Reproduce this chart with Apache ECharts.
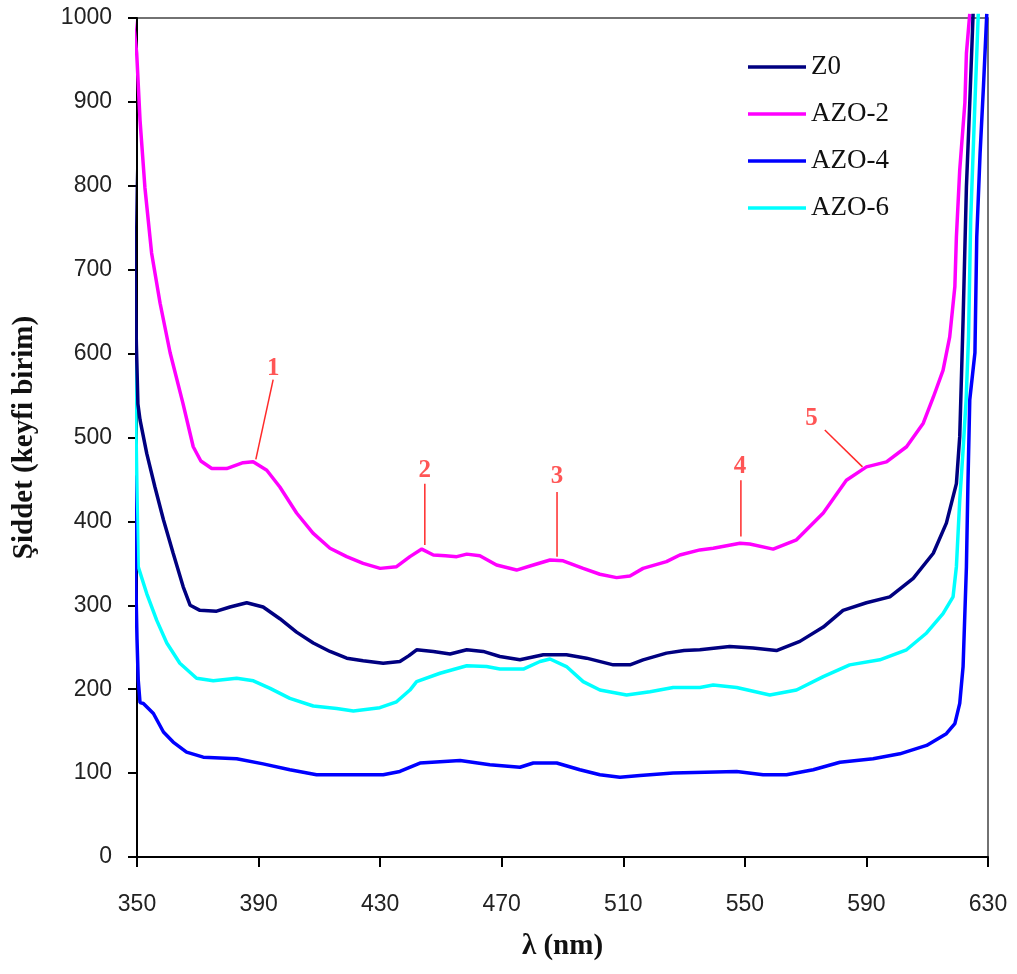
<!DOCTYPE html>
<html>
<head>
<meta charset="utf-8">
<script src="https://cdn.jsdelivr.net/npm/echarts@6/dist/echarts.min.js"></script>
<style>html,body{margin:0;padding:0;background:#fff}#c{width:1017px;height:974px}</style>
</head>
<body>
<div id="c"></div>
<script>
// ---- Data (wavelength nm, intensity arbitrary units) ----
const seriesNames = ['Z0', 'AZO-2', 'AZO-4', 'AZO-6'];

const z0_x = [348.4, 348.9, 349.3, 349.8, 350.3, 351, 353.2, 355.9, 358.7, 361.9, 365.2, 367.5, 370.7, 376.2, 380.6, 386.1, 391.5, 397, 402.5, 408, 413.5, 419, 424.4, 431, 436.5, 439.5, 442, 447.5, 453, 458.5, 463.9, 469.4, 476, 483.7, 491.3, 497.9, 506.7, 512.2, 516.5, 524.2, 530, 535.2, 545, 552.7, 560.4, 568.1, 575.8, 582.3, 590, 597.7, 605.4, 612, 616.3, 619.6, 620.7, 621.8, 622.9, 624, 625.1];
const z0_y = [876, 800, 700, 610, 540, 521, 481, 441, 402, 362, 322, 300, 294, 293, 298, 303, 298, 284, 268, 255, 245, 237, 234, 231, 233, 240, 247, 245, 242, 247, 245, 239, 235, 241, 241, 237, 229, 229, 235, 243, 246, 247, 251, 249, 246, 257, 274, 294, 303, 310, 332, 362, 398, 445, 501, 640, 799, 899, 1005];

const azo2_x = [348.7, 349.9, 351, 352.6, 354.8, 357.6, 360.9, 365.1, 368.5, 371, 374.6, 379.5, 384.9, 388.2, 392.7, 397, 402.5, 407.9, 413.5, 419, 424.4, 430, 435.4, 439.8, 443.7, 447.5, 451.5, 455.2, 458.5, 462.8, 468.3, 474.9, 480.4, 485.9, 490.2, 496.8, 502.3, 507.8, 512.2, 516.5, 524.2, 528.6, 535.2, 539.6, 548.4, 551.6, 559.3, 567, 575.8, 583.4, 590, 596.6, 603.2, 608.7, 612, 615.2, 617.4, 619.1, 619.6, 620.7, 622.4, 622.9, 624];
const azo2_y = [1000, 958, 878, 798, 720, 660, 601, 541, 489, 472, 463, 463, 470, 471, 461, 441, 410, 386, 368, 358, 350, 344, 346, 358, 367, 360, 359, 358, 361, 359, 348, 342, 348, 354, 353, 344, 337, 333, 335, 344, 352, 360, 366, 368, 374, 373, 367, 378, 410, 449, 465, 471, 489, 517, 548, 580, 620, 680, 739, 819, 899, 958, 1005];

const azo4_x = [348.8, 349.2, 349.6, 350, 350.4, 351, 352.1, 355.4, 358.7, 361.9, 366.3, 371.8, 382.8, 391.5, 400.3, 409.1, 431, 436.5, 443.1, 456.3, 466.1, 476, 480.4, 488.1, 495.7, 502.3, 508.9, 515.5, 526.4, 547.3, 556, 563.7, 572.5, 581.3, 592.2, 601, 609.8, 616.3, 619.1, 620.7, 621.8, 622.9, 623.4, 624, 625.7, 626.3, 627.4, 628.5, 629.6];
const azo4_y = [455, 400, 330, 260, 211, 184, 183, 171, 149, 137, 125, 119, 117, 111, 104, 98, 98, 102, 112, 115, 110, 107, 112, 112, 104, 98, 95, 97, 100, 102, 98, 98, 104, 113, 117, 123, 133, 147, 159, 183, 227, 346, 445, 545, 601, 739, 839, 918, 1005];

const azo6_x = [348.7, 349.3, 349.8, 350.4, 353.2, 356.5, 359.8, 364.1, 369.6, 375.1, 382.8, 388.3, 393.8, 400.3, 408, 415.7, 421.2, 429.9, 435.4, 439.8, 442, 449.7, 458.5, 465, 469.4, 477.1, 482.6, 485.9, 491.3, 496.8, 502.3, 511.1, 518.8, 526.4, 535.2, 539.6, 547.3, 558.2, 567, 575.8, 584.5, 594.4, 603.2, 609.8, 615.2, 618.5, 619.6, 620.7, 621.8, 622.8, 623.6, 624.3, 625.7, 626.8];
const azo6_y = [703, 600, 480, 346, 314, 282, 255, 231, 213, 210, 213, 210, 201, 189, 180, 177, 174, 178, 185, 199, 209, 219, 228, 227, 224, 224, 233, 236, 227, 209, 199, 193, 197, 202, 202, 205, 202, 193, 199, 215, 229, 235, 247, 267, 290, 310, 346, 425, 485, 545, 620, 759, 899, 1005];

// peak annotations: label, text anchor (nm, value), leader line start and end (nm, value)
const annLabels = ['1', '2', '3', '4', '5'];
const annTextX  = [394.8, 444.7, 488.2, 548.4, 571.9];
const annTextY  = [582, 461, 453, 465, 523];
const annStartX = [394.8, 444.7, 488.2, 548.7, 576.3];
const annStartY = [569, 445, 435, 449, 509];
const annEndX   = [389.1, 444.7, 488.2, 548.7, 588.7];
const annEndY   = [474, 372, 358, 382, 465];

const xMin = 350, xMax = 630, xStep = 40;
const yMin = 0, yMax = 1000, yStep = 100;

// ---- Build ----
const colors = ['#000080', '#ff00ff', '#0000ff', '#00ffff'];
const xs = [z0_x, azo2_x, azo4_x, azo6_x];
const ys = [z0_y, azo2_y, azo4_y, azo6_y];
const zip = (a, b) => a.map((v, i) => [v, b[i]]);

const series = seriesNames.map((n, i) => ({
  name: n, type: 'line', data: zip(xs[i], ys[i]),
  symbol: 'none', showSymbol: false, clip: false, z: 3 + (3 - i),
  lineStyle: { color: colors[i], width: 3.5 }, itemStyle: { color: colors[i] },
  emphasis: { disabled: true }, animation: false
}));

annLabels.forEach((lab, i) => {
  series.push({
    name: 'lead' + lab, type: 'line', symbol: 'none', clip: false, z: 2,
    data: [[annStartX[i], annStartY[i]], [annEndX[i], annEndY[i]]],
    lineStyle: { color: '#ff2a2a', width: 1.5 }, emphasis: { disabled: true }, animation: false, silent: true
  });
});
series.push({
  name: 'annText', type: 'scatter', symbolSize: 0, clip: false, silent: true, animation: false,
  data: annLabels.map((lab, i) => ({ value: [annTextX[i], annTextY[i]], name: lab })),
  label: {
    show: true, position: 'inside', formatter: p => p.name,
    fontFamily: 'Liberation Serif', fontWeight: 'bold', fontSize: 25, color: '#ff2a2a'
  }
});

const chart = echarts.init(document.getElementById('c'), null, { renderer: 'canvas' });
chart.setOption({
  backgroundColor: '#fff',
  animation: false,
  grid: { left: 137, right: 29, top: 18, bottom: 117, show: true, borderColor: '#444', borderWidth: 1.5, backgroundColor: 'transparent' },
  legend: {
    data: seriesNames, orient: 'vertical', left: 748, top: 52, padding: 0,
    icon: 'rect', itemWidth: 58, itemHeight: 3.5, itemGap: 17,
    textStyle: { fontFamily: 'Liberation Serif', fontSize: 27, color: '#111', lineHeight: 30 }
  },
  xAxis: {
    type: 'value', min: xMin, max: xMax, interval: xStep,
    name: 'λ (nm)', nameLocation: 'middle', nameGap: 75,
    nameTextStyle: { fontFamily: 'Liberation Serif', fontWeight: 'bold', fontSize: 29, color: '#111' },
    axisLine: { show: true, lineStyle: { color: '#000', width: 2 } },
    axisTick: { show: true, inside: false, length: 10, lineStyle: { color: '#000', width: 2 } },
    axisLabel: { margin: 36, fontFamily: 'Liberation Sans', fontSize: 23, color: '#222', formatter: v => String(v) },
    splitLine: { show: false }
  },
  yAxis: {
    type: 'value', min: yMin, max: yMax, interval: yStep,
    name: 'Şiddet (keyfi birim)', nameLocation: 'middle', nameGap: 98,
    nameTextStyle: { fontFamily: 'Liberation Serif', fontWeight: 'bold', fontSize: 29, color: '#111' },
    axisLine: { show: true, lineStyle: { color: '#000', width: 2 } },
    axisTick: { show: true, inside: false, length: 9, lineStyle: { color: '#000', width: 2 } },
    axisLabel: { margin: 25, fontFamily: 'Liberation Sans', fontSize: 23, color: '#222', formatter: v => String(v) },
    splitLine: { show: false }
  },
  series: series
});
</script>
</body>
</html>
